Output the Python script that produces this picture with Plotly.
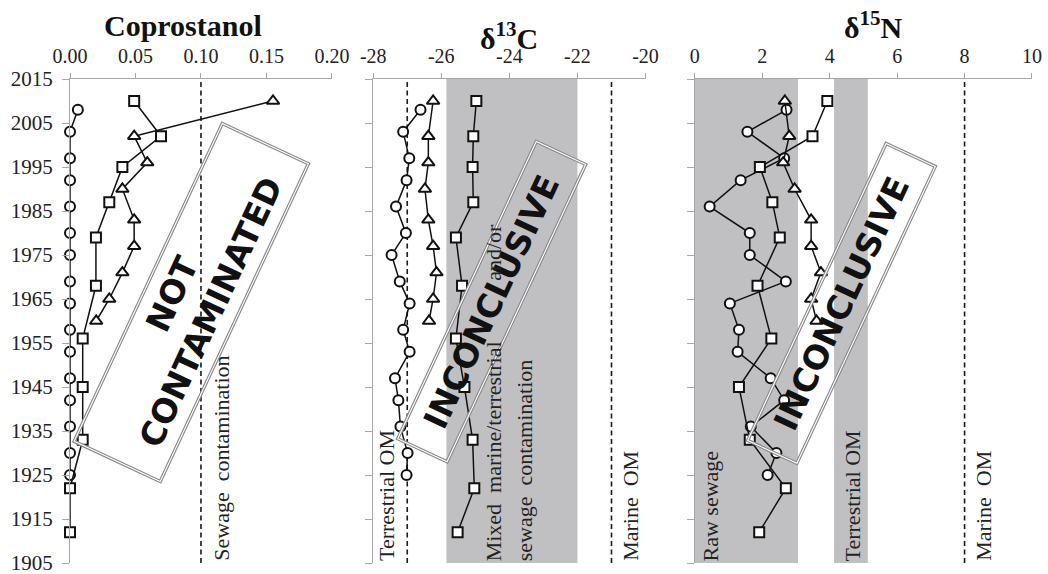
import math
import plotly.graph_objects as go

# ---------------- data ----------------
years_circle = [2008, 2003, 1997, 1992, 1986, 1980, 1975, 1969, 1964, 1958, 1953, 1947, 1942, 1936, 1930, 1925]
years_square = [2010, 2002, 1995, 1987, 1979, 1968, 1956, 1945, 1933, 1922, 1912]
years_triangle = [2010, 2002, 1996, 1990, 1983, 1977, 1971, 1965, 1960]

copro_circle = [0.006, 0, 0, 0, 0, 0, 0, 0, 0, 0, 0, 0, 0, 0, 0, 0]
copro_square = [0.049, 0.0695, 0.040, 0.030, 0.0198, 0.0198, 0.0097, 0.0097, 0.0097, 0.0, 0.0]
copro_triangle = [0.155, 0.049, 0.059, 0.040, 0.049, 0.049, 0.040, 0.030, 0.020]

c13_circle = [-26.61, -27.12, -26.94, -27.02, -27.33, -27.04, -27.46, -27.22, -26.93, -27.12, -26.93, -27.36, -27.26, -27.20, -26.99, -27.02]
c13_square = [-24.97, -25.06, -25.08, -25.06, -25.57, -25.39, -25.57, -25.32, -25.08, -25.03, -25.52]
c13_triangle = [-26.24, -26.38, -26.38, -26.48, -26.38, -26.24, -26.14, -26.24, -26.36]

n15_circle = [2.72, 1.56, 2.65, 1.36, 0.44, 1.63, 1.63, 2.70, 1.04, 1.31, 1.27, 2.25, 2.65, 1.66, 2.42, 2.16]
n15_square = [3.93, 3.49, 1.93, 2.30, 2.52, 1.86, 2.27, 1.31, 1.63, 2.70, 1.91]
n15_triangle = [2.67, 2.80, 2.62, 2.96, 3.45, 3.45, 3.74, 3.45, 3.61]

copro_ticks = [0.00, 0.05, 0.10, 0.15, 0.20]
copro_ticktext = ["0.00", "0.05", "0.10", "0.15", "0.20"]
c13_ticks = [-28, -26, -24, -22, -20]
c13_ticktext = ["-28", "-26", "-24", "-22", "-20"]
n15_ticks = [0, 2, 4, 6, 8, 10]
n15_ticktext = ["0", "2", "4", "6", "8", "10"]
year_ticks = [1905, 1915, 1925, 1935, 1945, 1955, 1965, 1975, 1985, 1995, 2005, 2015]

titles = ["Coprostanol", "δ<sup>13</sup>C", "δ<sup>15</sup>N"]

# reference thresholds / ranges
copro_threshold = 0.10
c13_terrestrial = -27.0
c13_marine = -21.0
c13_mixed_band = (-25.85, -22.0)
n15_sewage_band = (0.0, 3.06)
n15_terr_band = (4.13, 5.13)
n15_marine = 8.0

# ---------------- geometry ----------------
W, H = 1048, 574
# plot area in screen pixels (as measured on the reference)
S_LEFT, S_RIGHT, S_TOP, S_BOTTOM = 70.0, 1032.3, 79.0, 563.0
ML = S_LEFT
MT = S_TOP
MR = W - S_RIGHT
MB = H - S_BOTTOM
PW, PH = W - ML - MR, H - MT - MB
panels_px = [(70.0, 332.0), (373.3, 645.7), (695.0, 1032.3)]
ranges = [(0.0, 0.2), (-28.0, -20.0), (0.0, 10.0)]
YR = (1905, 2015)


def px_to_paper_x(px):
    return (px - S_LEFT) / PW


def py_to_paper_y(py):
    return 1 - (py - S_TOP) / PH


def data_to_px(i, v):
    x0, x1 = panels_px[i]
    r0, r1 = ranges[i]
    return x0 + (v - r0) / (r1 - r0) * (x1 - x0)


def year_to_py(y):
    return S_TOP + (YR[1] - y) / (YR[1] - YR[0]) * PH


fig = go.Figure()

axis_grey = "#a6a6a6"
serif = "Liberation Serif, Times New Roman, serif"
xtick_font = dict(family=serif, size=20, color="#222222")
ytick_font = dict(family=serif, size=21, color="#222222")

xnames = ["x", "x2", "x3"]
ynames = ["y", "y2", "y3"]
tickvals = [copro_ticks, c13_ticks, n15_ticks]
ticktexts = [copro_ticktext, c13_ticktext, n15_ticktext]

layout_axes = {}
for i in range(3):
    xkey = "xaxis" if i == 0 else f"xaxis{i+1}"
    ykey = "yaxis" if i == 0 else f"yaxis{i+1}"
    x0, x1 = panels_px[i]
    layout_axes[xkey] = dict(
        domain=[max(0.0, px_to_paper_x(x0)), min(1.0, px_to_paper_x(x1))], range=list(ranges[i]),
        side="top", anchor=ynames[i], showline=True, linecolor=axis_grey, linewidth=1,
        ticks="outside", ticklen=5, tickcolor=axis_grey, tickwidth=1,
        tickvals=tickvals[i], ticktext=ticktexts[i], tickfont=xtick_font,
        showgrid=False, zeroline=False, ticklabelstandoff=2, automargin=False,
        ticklabeloverflow="allow",
    )
    layout_axes[ykey] = dict(
        domain=[0, 1], range=list(YR), anchor=xnames[i], showline=True,
        linecolor=axis_grey, linewidth=1, ticks="outside", ticklen=7,
        tickcolor=axis_grey, tickwidth=1, tickvals=year_ticks,
        showticklabels=(i == 0), tickfont=ytick_font, showgrid=False,
        zeroline=False, ticklabelstandoff=5, automargin=False,
        ticklabeloverflow="allow",
    )

series = [
    (years_circle, [copro_circle, c13_circle, n15_circle], "circle", 10),
    (years_square, [copro_square, c13_square, n15_square], "square", 10),
    (years_triangle, [copro_triangle, c13_triangle, n15_triangle], "triangle-up", 11),
]

for i in range(3):
    for years, vals, sym, size in series:
        fig.add_trace(go.Scatter(
            x=vals[i], y=years, xaxis=xnames[i], yaxis=ynames[i],
            mode="lines+markers",
            line=dict(color="#111111", width=1.5),
            marker=dict(symbol=sym, size=size, color="white",
                        line=dict(color="#111111", width=2.0)),
            showlegend=False, hoverinfo="skip", cliponaxis=False,
        ))

shapes = []
# grey bands
for xr, axi in [(c13_mixed_band, 1), (n15_sewage_band, 2), (n15_terr_band, 2)]:
    shapes.append(dict(type="rect", xref=xnames[axi], yref=f"{ynames[axi]} domain",
                       x0=xr[0], x1=xr[1], y0=0, y1=1, fillcolor="#c0c0c2",
                       line=dict(width=0), layer="below"))
# dashed reference lines
for xv, axi in [(copro_threshold, 0), (c13_terrestrial, 1), (c13_marine, 1), (n15_marine, 2)]:
    shapes.append(dict(type="line", xref=xnames[axi], yref=f"{ynames[axi]} domain",
                       x0=xv, x1=xv, y0=0, y1=1,
                       line=dict(color="#1a1a1a", width=1.6, dash="5px,3.5px"),
                       layer="below"))

# rotated verdict boxes: (panel, center value, center year, length px, width px)
boxes = [
    (0, 0.0926, 1964.2, 350.6, 95.0, "NOT<br>CONTAMINATED"),
    (1, -24.52, 1964.4, 328.0, 54.5, "INCONCLUSIVE"),
    (2, 4.35, 1964.0, 327.6, 54.3, "INCONCLUSIVE"),
]
ang = math.radians(65)
ux, uy = math.cos(ang), -math.sin(ang)
vx, vy = math.sin(ang), math.cos(ang)
annotations = []
for axi, cv, cyear, L, Wd, txt in boxes:
    cx, cy = data_to_px(axi, cv), year_to_py(cyear)
    pts = []
    for a, b in [(-1, -1), (1, -1), (1, 1), (-1, 1)]:
        px = cx + a * L / 2 * ux + b * Wd / 2 * vx
        py = cy + a * L / 2 * uy + b * Wd / 2 * vy
        pts.append((px_to_paper_x(px), py_to_paper_y(py)))
    path = "M " + " L ".join(f"{x:.5f},{y:.5f}" for x, y in pts) + " Z"
    shapes.append(dict(type="path", xref="paper", yref="paper", path=path,
                       line=dict(color="#8a8a8a", width=3.4), layer="above"))
    shapes.append(dict(type="path", xref="paper", yref="paper", path=path,
                       line=dict(color="white", width=1.1), layer="above"))
    annotations.append(dict(
        x=cv, y=cyear, xref=xnames[axi], yref=ynames[axi], text=txt,
        showarrow=False, textangle=-65, xanchor="center", yanchor="middle",
        font=dict(family="Arial Black, DejaVu Sans, sans-serif", size=33,
                  color="#111111", weight="bold"),
    ))

# rotated reference labels: (panel, x value, text, anchor, year)
labels = [
    (0, 0.1155, "Sewage\u00a0 contamination", "bottom", 1905),
    (1, -27.61, "Terrestrial OM", "bottom", 1905),
    (1, -24.47, "Mixed\u00a0 marine/terrestrial", "bottom", 1905),
    (1, -24.47, "and/or", "top", 1982.5),
    (1, -23.56, "sewage\u00a0 contamination", "bottom", 1905),
    (1, -20.46, "Marine\u00a0 OM", "bottom", 1905),
    (2, 0.48, "Raw sewage", "bottom", 1905),
    (2, 4.69, "Terrestrial OM", "bottom", 1905),
    (2, 8.54, "Marine\u00a0 OM", "bottom", 1905),
]
for axi, xv, txt, anch, yv in labels:
    annotations.append(dict(
        x=xv, y=yv, xref=xnames[axi], yref=ynames[axi], text=txt,
        showarrow=False, textangle=-90, xanchor="center", yanchor=anch,
        font=dict(family=serif, size=22, color="#222222"),
    ))

# panel titles (screen pixel positions converted to paper)
title_pos = [(183, 25), (509, 36), (874, 25)]
for t, (tx, ty) in zip(titles, title_pos):
    annotations.append(dict(
        x=px_to_paper_x(tx), y=py_to_paper_y(ty), xref="paper", yref="paper",
        text=f"<b>{t}</b>", showarrow=False, xanchor="center", yanchor="middle",
        font=dict(family=serif, size=30, color="#111111"),
    ))

fig.update_layout(
    width=W, height=H,
    margin=dict(l=ML, r=MR, t=MT, b=MB, pad=0, autoexpand=False),
    paper_bgcolor="white", plot_bgcolor="white",
    shapes=shapes, annotations=annotations, showlegend=False,
    **layout_axes,
)

# remove the default page margin so the 1048x574 figure fills the window exactly
fig.write_html(
    "out.html",
    config={"displayModeBar": False},
    post_script="document.body.style.margin='0';document.body.style.overflow='hidden';",
)
